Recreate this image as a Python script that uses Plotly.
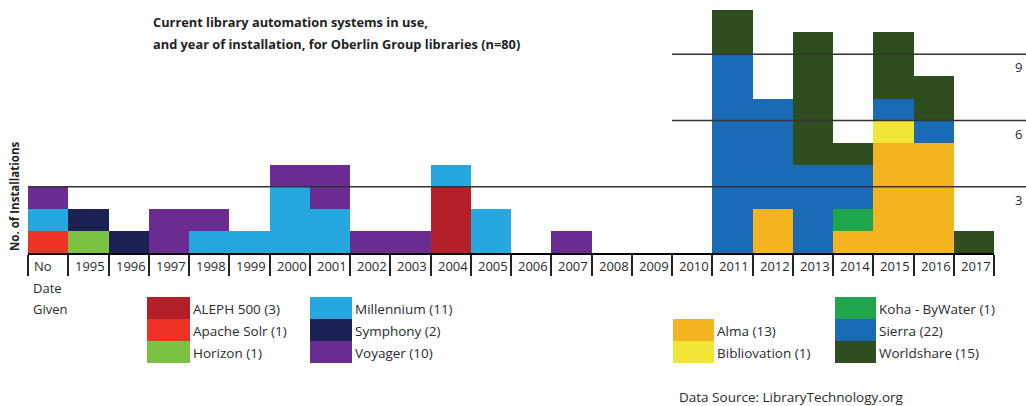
import plotly.graph_objects as go

categories = ["No", "1995", "1996", "1997", "1998", "1999", "2000", "2001", "2002", "2003",
              "2004", "2005", "2006", "2007", "2008", "2009", "2010", "2011", "2012", "2013",
              "2014", "2015", "2016", "2017"]

systems = ["ALEPH 500", "Apache Solr", "Horizon", "Millennium", "Symphony", "Voyager",
           "Alma", "Bibliovation", "Koha - ByWater", "Sierra", "Worldshare"]

aleph      = [0, 0, 0, 0, 0, 0, 0, 0, 0, 0, 3, 0, 0, 0, 0, 0, 0, 0, 0, 0, 0, 0, 0, 0]
apache     = [1, 0, 0, 0, 0, 0, 0, 0, 0, 0, 0, 0, 0, 0, 0, 0, 0, 0, 0, 0, 0, 0, 0, 0]
horizon    = [0, 1, 0, 0, 0, 0, 0, 0, 0, 0, 0, 0, 0, 0, 0, 0, 0, 0, 0, 0, 0, 0, 0, 0]
millennium = [1, 0, 0, 0, 1, 1, 3, 2, 0, 0, 1, 2, 0, 0, 0, 0, 0, 0, 0, 0, 0, 0, 0, 0]
symphony   = [0, 1, 1, 0, 0, 0, 0, 0, 0, 0, 0, 0, 0, 0, 0, 0, 0, 0, 0, 0, 0, 0, 0, 0]
voyager    = [1, 0, 0, 2, 1, 0, 1, 2, 1, 1, 0, 0, 0, 1, 0, 0, 0, 0, 0, 0, 0, 0, 0, 0]
alma       = [0, 0, 0, 0, 0, 0, 0, 0, 0, 0, 0, 0, 0, 0, 0, 0, 0, 0, 2, 0, 1, 5, 5, 0]
biblio     = [0, 0, 0, 0, 0, 0, 0, 0, 0, 0, 0, 0, 0, 0, 0, 0, 0, 0, 0, 0, 0, 1, 0, 0]
koha       = [0, 0, 0, 0, 0, 0, 0, 0, 0, 0, 0, 0, 0, 0, 0, 0, 0, 0, 0, 0, 1, 0, 0, 0]
sierra     = [0, 0, 0, 0, 0, 0, 0, 0, 0, 0, 0, 0, 0, 0, 0, 0, 0, 9, 5, 4, 2, 1, 1, 0]
worldshare = [0, 0, 0, 0, 0, 0, 0, 0, 0, 0, 0, 0, 0, 0, 0, 0, 0, 2, 0, 6, 1, 3, 2, 1]

series = [aleph, apache, horizon, millennium, symphony, voyager, alma, biblio, koha, sierra, worldshare]
colors = ["#B3202A", "#EC3324", "#7CC143", "#27A7E0", "#1C2155", "#6A2C90",
          "#F4B41F", "#F1E535", "#1FA54B", "#1A6BB6", "#2F4E20"]

grid_values = [3, 6, 9]
title_lines = ["Current library automation systems in use,",
               "and year of installation, for Oberlin Group libraries (n=80)"]
source_text = "Data Source: LibraryTechnology.org"

# layout geometry (pixels)
W, H = 1026, 406
L, R, T, B = 28, 32, 6, 153
PW, PH = W - L - R, H - T - B

def xp(px):
    return (px - L) / PW

def yp(py):
    return (H - B - py) / PH

FONT = "Open Sans, Liberation Sans, sans-serif"
TXT = "#2b2b2b"

fig = go.Figure()
for name, vals, col in zip(systems, series, colors):
    fig.add_trace(go.Bar(x=categories, y=vals, name=f"{name} ({sum(vals)})",
                         marker=dict(color=col, line=dict(width=0)),
                         showlegend=False))

fig.update_layout(
    width=W, height=H,
    margin=dict(l=L, r=R, t=T, b=B),
    barmode="stack", bargap=0,
    plot_bgcolor="white", paper_bgcolor="white",
    font=dict(family=FONT, size=12, color=TXT),
    xaxis=dict(type="category", showgrid=False, showline=True, linecolor="black",
               linewidth=2, ticks="outside", tickson="boundaries", ticklen=21,
               tickwidth=2, tickcolor="#222", showticklabels=False, zeroline=False,
               range=[-0.5, len(categories) - 0.5]),
    yaxis=dict(range=[0, 247 / 22.07], showgrid=False, showticklabels=False,
               zeroline=False, showline=False),
)

annotations = []
shapes = []

# x tick labels
for i, c in enumerate(categories):
    if c == "No":
        annotations.append(dict(x=xp(32), xref="paper", xanchor="left", y=yp(266),
                                yref="paper", yanchor="middle", text=c, showarrow=False,
                                font=dict(size=13, color=TXT)))
    else:
        annotations.append(dict(x=i, xref="x", xanchor="center", xshift=2, y=yp(266),
                                yref="paper", yanchor="middle", text=c, showarrow=False,
                                font=dict(size=13, color=TXT)))
for txt, py in [("Date", 288), ("Given", 309)]:
    annotations.append(dict(x=xp(31), xref="paper", xanchor="left", y=yp(py), yref="paper",
                            yanchor="middle", text=txt, showarrow=False,
                            font=dict(size=13, color=TXT)))

# grid lines and right-hand value labels
for g in grid_values:
    x0 = 0 if g == 3 else xp(672)
    shapes.append(dict(type="line", xref="paper", yref="y", x0=x0, x1=xp(W), y0=g, y1=g,
                       line=dict(color="#333", width=1.5), layer="above"))
    annotations.append(dict(x=xp(1018), xref="paper", xanchor="center", y=g, yref="y",
                            yshift=-13, yanchor="middle", text=str(g), showarrow=False,
                            font=dict(size=13, color=TXT)))

# title
for k, line in enumerate(title_lines):
    annotations.append(dict(x=xp(151), xref="paper", xanchor="left", y=yp(22 + 22 * k),
                            yref="paper", yanchor="middle", text=f"<b>{line}</b>",
                            showarrow=False, font=dict(size=12.8, color="#222")))

# y-axis title
annotations.append(dict(x=xp(14), xref="paper", xanchor="center", y=yp(197), yref="paper",
                        yanchor="middle", text="<b>No. of Installations</b>", textangle=-90,
                        showarrow=False, font=dict(size=11.5, color="#222")))

# legend (manual, grid-cell style)
legend_pos = [  # (swatch left, swatch right, row)
    (147, 190, 0), (147, 190, 1), (147, 190, 2),
    (310, 352, 0), (310, 352, 1), (310, 352, 2),
    (673, 714, 1), (673, 714, 2),
    (835, 876, 0), (835, 876, 1), (835, 876, 2),
]
for (x0, x1, row), name, vals, col in zip(legend_pos, systems, series, colors):
    top = 297 + 22 * row
    shapes.append(dict(type="rect", xref="paper", yref="paper", x0=xp(x0), x1=xp(x1),
                       y0=yp(top + 22), y1=yp(top), fillcolor=col, line=dict(width=0)))
    annotations.append(dict(x=xp(x1 + 1), xref="paper", xanchor="left", y=yp(top + 12),
                            yref="paper", yanchor="middle", text=f"{name} ({sum(vals)})",
                            showarrow=False, font=dict(size=13.5, color=TXT)))

annotations.append(dict(x=xp(677), xref="paper", xanchor="left", y=yp(397), yref="paper",
                        yanchor="middle", text=source_text, showarrow=False,
                        font=dict(size=13.5, color=TXT)))

fig.update_layout(annotations=annotations, shapes=shapes)
fig.write_html("out.html")
